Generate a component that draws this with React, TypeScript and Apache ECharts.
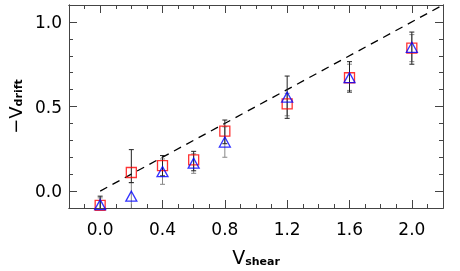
import React, { useEffect, useRef } from "react";
import * as echarts from "echarts";

const xValues = [0.0, 0.2, 0.4, 0.6, 0.8, 1.2, 1.6, 2.0];
const squareValues = [-0.085, 0.11, 0.15, 0.185, 0.355, 0.515, 0.67, 0.845];
const triangleValues = [-0.08, -0.03, 0.115, 0.165, 0.29, 0.555, 0.67, 0.85];
const squareErrLow = [-0.14, 0.05, 0.09, 0.12, 0.28, 0.43, 0.585, 0.75];
const squareErrHigh = [-0.03, 0.245, 0.21, 0.235, 0.42, 0.68, 0.765, 0.94];
const triangleErrLow = [-0.14, -0.15, 0.04, 0.105, 0.2, 0.445, 0.595, 0.765];
const triangleErrHigh = [-0.04, 0.05, 0.19, 0.22, 0.38, 0.578, 0.75, 0.925];
const lineX = [0, 2.2];
const lineY = [0, 1.1];
const xMajorTicks = [0, 0.4, 0.8, 1.2, 1.6, 2.0];
const yMajorTicks = [0, 0.5, 1.0];

const FONT = "DejaVu Sans";

function range(a: number, b: number, step: number) {
  const out: number[] = [];
  for (let i = 0; a + i * step <= b + 1e-9; i++) out.push(+(a + i * step).toFixed(3));
  return out;
}

export default function App() {
  const ref = useRef<HTMLDivElement>(null);
  useEffect(() => {
    const chart = echarts.init(ref.current!, null, { renderer: "svg" });
    const xMinor = range(-0.2, 2.2, 0.1);
    const yMinor = range(-0.1, 1.1, 0.1);
    const axisLine = { show: true, onZero: false, lineStyle: { color: "#444", width: 1 } };

    const mkX = (pos: string, ticks: number[], len: number, labels: boolean, name?: any) => ({
      type: "value",
      min: -0.2,
      max: 2.2,
      position: pos,
      axisLine,
      splitLine: { show: false },
      axisTick: { show: true, inside: true, length: len, customValues: ticks, lineStyle: { color: "#444" } },
      axisLabel: labels
        ? { show: true, customValues: ticks, formatter: (v: number) => v.toFixed(1), fontFamily: FONT, fontSize: 17, color: "#000", margin: 12 }
        : { show: false },
      ...(name || {}),
    });
    const mkY = (pos: string, ticks: number[], len: number, labels: boolean, name?: any) => ({
      type: "value",
      min: -0.1,
      max: 1.1,
      position: pos,
      axisLine,
      splitLine: { show: false },
      axisTick: { show: true, inside: true, length: len, customValues: ticks, lineStyle: { color: "#444" } },
      axisLabel: labels
        ? { show: true, customValues: ticks, formatter: (v: number) => v.toFixed(1), fontFamily: FONT, fontSize: 17, color: "#000", margin: 7 }
        : { show: false },
      ...(name || {}),
    });

    const errRender = (color: string) => (params: any, api: any) => {
      const x = api.value(0);
      const lo = api.coord([x, api.value(1)]);
      const hi = api.coord([x, api.value(2)]);
      const cap = 2.5;
      const style = { stroke: color, lineWidth: 1 };
      return {
        type: "group",
        children: [
          { type: "line", shape: { x1: lo[0], y1: lo[1], x2: hi[0], y2: hi[1] }, style },
          { type: "line", shape: { x1: lo[0] - cap, y1: lo[1], x2: lo[0] + cap, y2: lo[1] }, style },
          { type: "line", shape: { x1: hi[0] - cap, y1: hi[1], x2: hi[0] + cap, y2: hi[1] }, style },
        ],
      };
    };

    const richX = {
      v: { fontFamily: FONT, fontSize: 19, color: "#000" },
      s: { fontFamily: FONT, fontSize: 11, fontWeight: "bold", color: "#000", verticalAlign: "bottom", padding: [10, 0, 0, 0] },
    };
    const richY = {
      v: { fontFamily: FONT, fontSize: 18, color: "#000" },
      s: { fontFamily: FONT, fontSize: 11, fontWeight: "bold", color: "#000", verticalAlign: "bottom", padding: [7, 0, 0, 0] },
    };

    chart.setOption({
      animation: false,
      grid: { left: 69, right: 17, top: 5, bottom: 63, containLabel: false, outerBoundsMode: "none" },
      xAxis: [
        mkX("bottom", xMajorTicks, 8, true, {
          name: "{v|V}{s|shear}",
          nameLocation: "middle",
          nameGap: 38,
          nameTextStyle: { rich: richX },
        }),
        mkX("bottom", xMinor, 4, false),
        mkX("top", xMajorTicks, 8, false),
        mkX("top", xMinor, 4, false),
      ],
      yAxis: [
        mkY("left", yMajorTicks, 8, true, {
          name: "{v|\u2212V}{s|drift}",
          nameLocation: "middle",
          nameGap: 45,
          nameTextStyle: { rich: richY },
        }),
        mkY("left", yMinor, 4, false),
        mkY("right", yMajorTicks, 8, false),
        mkY("right", yMinor, 4, false),
      ],
      series: [
        {
          type: "line",
          data: lineX.map((x, i) => [x, lineY[i]]),
          symbol: "none",
          lineStyle: { color: "#000", width: 1.3, type: [8, 6] },
          clip: true,
          z: 1,
        },
        {
          type: "custom",
          renderItem: errRender("#888"),
          data: xValues.map((x, i) => [x, triangleErrLow[i], triangleErrHigh[i]]),
          clip: true,
          z: 2,
        },
        {
          type: "custom",
          renderItem: errRender("#222"),
          data: xValues.map((x, i) => [x, squareErrLow[i], squareErrHigh[i]]),
          clip: true,
          z: 3,
        },
        {
          type: "scatter",
          data: xValues.map((x, i) => [x, squareValues[i]]),
          symbol: "rect",
          symbolSize: 10,
          itemStyle: { color: "rgba(0,0,0,0)", borderColor: "#ff0000", borderWidth: 1.3 },
          clip: true,
          z: 4,
        },
        {
          type: "scatter",
          data: xValues.map((x, i) => [x, triangleValues[i]]),
          symbol: "triangle",
          symbolSize: [11, 10],
          itemStyle: { color: "rgba(0,0,0,0)", borderColor: "#0000ff", borderWidth: 1.3 },
          clip: true,
          z: 5,
        },
      ],
    });
    return () => chart.dispose();
  }, []);
  return <div ref={ref} style={{ position: "fixed", left: 0, top: 0, width: 460, height: 271 }} />;
}
